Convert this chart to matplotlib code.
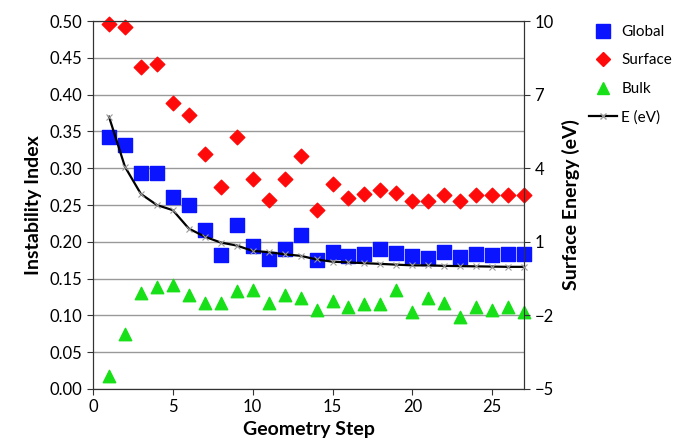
import numpy as np
import matplotlib
matplotlib.use("Agg")
import matplotlib.pyplot as plt
from matplotlib.lines import Line2D

plt.rcParams['font.family'] = ['Lato', 'DejaVu Sans']

steps = np.arange(1, 28)

# instability index values (left axis)
global_idx = [0.343, 0.331, 0.293, 0.293, 0.261, 0.250, 0.216, 0.182, 0.223, 0.195,
              0.177, 0.190, 0.209, 0.175, 0.186, 0.181, 0.183, 0.190, 0.185, 0.181,
              0.178, 0.186, 0.180, 0.184, 0.182, 0.184, 0.183]
surface_idx = [0.496, 0.492, 0.437, 0.441, 0.388, 0.373, 0.320, 0.275, 0.343, 0.285,
               0.257, 0.285, 0.317, 0.243, 0.279, 0.260, 0.265, 0.271, 0.267, 0.256,
               0.256, 0.264, 0.256, 0.263, 0.263, 0.263, 0.263]
bulk_idx = [0.018, 0.075, 0.131, 0.139, 0.141, 0.128, 0.117, 0.117, 0.133, 0.135,
            0.117, 0.128, 0.123, 0.107, 0.119, 0.112, 0.115, 0.115, 0.134, 0.104,
            0.123, 0.117, 0.098, 0.112, 0.108, 0.112, 0.104]

# surface energy (right axis, eV)
energy = [6.10, 4.06, 2.95, 2.50, 2.29, 1.54, 1.21, 0.97, 0.85, 0.63,
          0.58, 0.49, 0.43, 0.28, 0.19, 0.16, 0.13, 0.10, 0.07, 0.04,
          0.04, 0.02, 0.01, 0.00, -0.01, -0.02, -0.02]

fig = plt.figure(figsize=(6.81, 4.48), dpi=100)
ax = fig.add_axes([0.1366, 0.1317, 0.633, 0.8213])

ax.set_xlim(0, 27)
ax.set_ylim(0, 0.5)
ax.set_yticks(np.arange(0, 0.501, 0.05))
ax.set_yticklabels([f"{v:.2f}" for v in np.arange(0, 0.501, 0.05)])
ax.set_xticks([0, 5, 10, 15, 20, 25])
ax.yaxis.grid(True, color='#999999', lw=1)
ax.set_axisbelow(True)
for s in ax.spines.values():
    s.set_color('#333333')
ax.tick_params(labelsize=12, length=4, color='#333333')

ax.scatter(steps, global_idx, marker='s', s=110, color='#0a14ff', zorder=3, clip_on=False)
ax.scatter(steps, surface_idx, marker='D', s=55, color='#ff0a0a', zorder=3, clip_on=False)
ax.scatter(steps, bulk_idx, marker='^', s=80, color='#18e018', zorder=3, clip_on=False)

ax2 = ax.twinx()
ax2.set_ylim(-5, 10)
ax2.set_yticks([-5, -2, 1, 4, 7, 10])
ax2.plot(steps, energy, color='black', lw=1.6, marker='x', ms=5,
         mec='#999999', mew=0.8, zorder=4, clip_on=False)
ax2.tick_params(labelsize=12, length=4, color='#333333')
for s in ax2.spines.values():
    s.set_color('#333333')

ax.set_xlabel('Geometry Step', fontsize=14, fontweight='bold', labelpad=4)
ax.set_ylabel('Instability Index', fontsize=14, fontweight='bold', labelpad=6)
ax2.set_ylabel('Surface Energy (eV)', fontsize=14, fontweight='bold', labelpad=6)

handles = [
    Line2D([], [], ls='none', marker='s', ms=10, color='#0a14ff'),
    Line2D([], [], ls='none', marker='D', ms=7, color='#ff0a0a'),
    Line2D([], [], ls='none', marker='^', ms=9, color='#18e018'),
    Line2D([], [], color='black', lw=1.6, marker='x', ms=5, mec='#999999'),
]
fig.legend(handles, ['Global', 'Surface', 'Bulk', 'E (eV)'], loc='upper left',
           bbox_to_anchor=(0.845, 0.975), frameon=False, fontsize=11,
           handlelength=1.8, labelspacing=0.95, handletextpad=0.3)

fig.savefig('out.png', dpi=100)
